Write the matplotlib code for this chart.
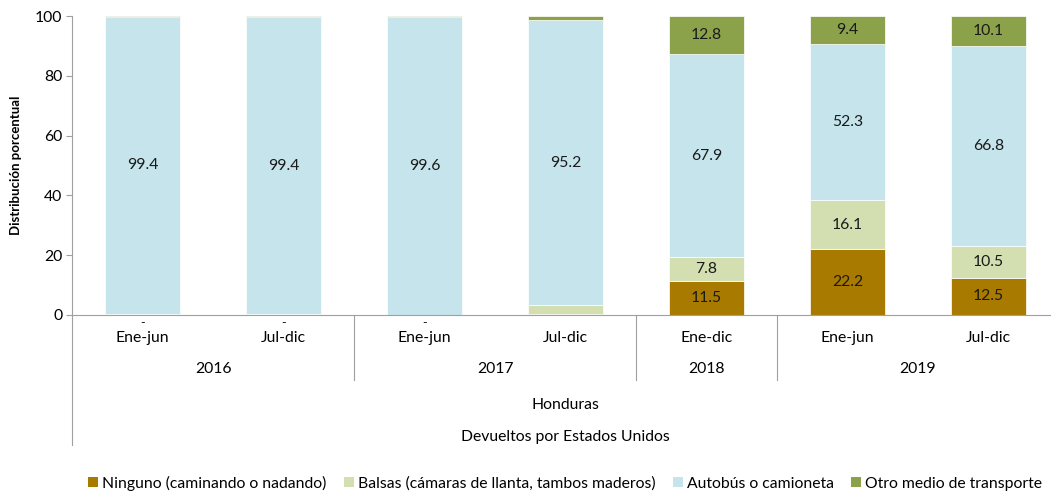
import matplotlib
matplotlib.use("Agg")
import matplotlib.pyplot as plt
from matplotlib.patches import Patch
import matplotlib.transforms as mtransforms

plt.rcParams['font.family'] = ['Lato', 'DejaVu Sans']

periods = ["Ene-jun", "Jul-dic", "Ene-jun", "Jul-dic", "Ene-dic", "Ene-jun", "Jul-dic"]
years = ["2016", "2017", "2018", "2019"]
year_spans = [(0, 1), (2, 3), (4, 4), (5, 6)]
series_names = ["Ninguno (caminando o nadando)", "Balsas (cámaras de llanta, tambos maderos)",
                "Autobús o camioneta", "Otro medio de transporte"]
ninguno = [0.0, 0.0, 0.0, 0.3, 11.5, 22.2, 12.5]
balsas = [0.4, 0.2, 0.1, 3.0, 7.8, 16.1, 10.5]
autobus = [99.4, 99.4, 99.6, 95.2, 67.9, 52.3, 66.8]
otro = [0.2, 0.4, 0.3, 1.5, 12.8, 9.4, 10.1]
ninguno_lbl = ["-", "-", "-", "", "11.5", "22.2", "12.5"]
balsas_lbl = ["", "", "", "", "7.8", "16.1", "10.5"]
autobus_lbl = ["99.4", "99.4", "99.6", "95.2", "67.9", "52.3", "66.8"]
otro_lbl = ["", "", "", "", "12.8", "9.4", "10.1"]
colors = ["#A97A00", "#D3DFB0", "#C5E4EC", "#8BA24B"]

FS = 11.3
W, H = 1051, 492
fig = plt.figure(figsize=(W / 100, H / 100), dpi=100)
x0, x1, ybot, ytop = 72, 1059, 315, 16
ax = fig.add_axes([x0 / W, (H - ybot) / H, (x1 - x0) / W, (ybot - ytop) / H])

xs = list(range(len(periods)))
values = [ninguno, balsas, autobus, otro]
labels = [ninguno_lbl, balsas_lbl, autobus_lbl, otro_lbl]
bottom = [0.0] * len(xs)
for vals, lbls, col in zip(values, labels, colors):
    ax.bar(xs, vals, bottom=bottom, width=0.525, color=col, edgecolor='white', linewidth=0.5)
    for i, (v, l) in enumerate(zip(vals, lbls)):
        if l:
            if v > 0:
                ax.text(xs[i], bottom[i] + v / 2, l, ha='center', va='center', fontsize=FS, color='#1a1a1a')
            else:
                ax.text(xs[i], -2.6, l, ha='center', va='center', fontsize=9, color='#1a1a1a',
                        clip_on=False)
    bottom = [b + v for b, v in zip(bottom, vals)]

ax.set_xlim(-0.5, len(xs) - 0.5)
ax.set_ylim(0, 100)
ax.set_yticks([0, 20, 40, 60, 80, 100])
ax.tick_params(axis='y', labelsize=FS, length=4, color='#A0A0A0', pad=3)
ax.set_xticks([])
for s in ['top', 'right']:
    ax.spines[s].set_visible(False)
for s in ['left', 'bottom']:
    ax.spines[s].set_color('#A0A0A0')
ax.set_ylabel("Distribución porcentual", fontsize=9.5, fontweight='bold', labelpad=9)

trans = mtransforms.blended_transform_factory(ax.transData, ax.transAxes)
def yfrac(pix):
    return (ybot - pix) / (ybot - ytop)

ax.plot([-0.5, -0.5], [0, yfrac(445)], transform=trans, color='#A0A0A0', lw=0.8, clip_on=False)
for a, b in year_spans[:-1]:
    xsep = b + 0.5
    ax.plot([xsep, xsep], [0, yfrac(380)], transform=trans, color='#A0A0A0', lw=0.8, clip_on=False)
for i, p in enumerate(periods):
    ax.text(i, yfrac(338), p, transform=trans, ha='center', va='center', fontsize=FS)
for yr, (a, b) in zip(years, year_spans):
    ax.text((a + b) / 2, yfrac(369), yr, transform=trans, ha='center', va='center', fontsize=FS)
ax.text(3, yfrac(405), "Honduras", transform=trans, ha='center', va='center', fontsize=FS)
ax.text(3, yfrac(437), "Devueltos por Estados Unidos", transform=trans, ha='center', va='center', fontsize=FS)

handles = [Patch(facecolor=c, edgecolor='none') for c in colors]
fig.legend(handles, series_names, loc='center', bbox_to_anchor=(565 / W, (H - 483) / H), ncol=4,
           frameon=False, fontsize=FS, handlelength=0.65, handleheight=0.65,
           handletextpad=0.25, columnspacing=1.1)

fig.savefig("out.png", dpi=100)
